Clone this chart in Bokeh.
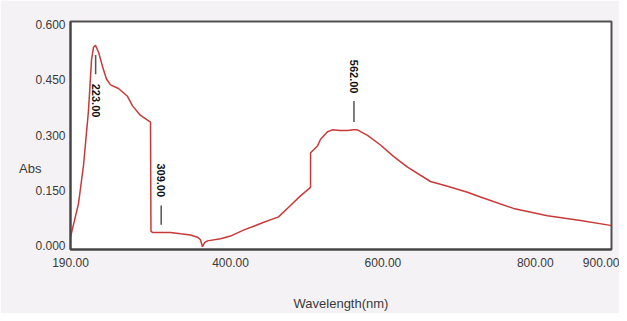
import math
from bokeh.plotting import figure
from bokeh.models import FixedTicker, PrintfTickFormatter, Range1d, LinearAxis
from bokeh.core.properties import value
from bokeh.embed import file_html
from bokeh.resources import INLINE

# Spectrum (wavelength nm, absorbance)
wavelength = [190.0, 200.5, 207.1, 213.6, 217.6, 220.2, 222.8, 226.7, 232.0, 237.2,
              242.5, 253.0, 264.8, 271.4, 281.9, 295.0, 295.6, 297.6, 308.1, 321.2,
              334.4, 347.5, 356.7, 360.6, 363.2, 365.9, 369.8, 386.9, 400.0, 417.0,
              442.0, 463.0, 478.7, 491.8, 505.0, 505.1, 514.1, 518.0, 527.3, 533.8,
              544.3, 553.5, 561.4, 566.6, 579.8, 596.8, 613.9, 632.3, 662.4, 684.8,
              711.0, 728.0, 771.4, 816.0, 859.3, 898.7, 900.0]
absorbance = [0.023, 0.114, 0.218, 0.366, 0.504, 0.538, 0.543, 0.525, 0.486, 0.452,
              0.436, 0.426, 0.405, 0.379, 0.353, 0.335, 0.039, 0.036, 0.036, 0.036,
              0.032, 0.029, 0.023, 0.016, -0.003, 0.008, 0.013, 0.019, 0.026, 0.042,
              0.062, 0.078, 0.109, 0.135, 0.158, 0.252, 0.270, 0.288, 0.309, 0.314,
              0.312, 0.312, 0.314, 0.314, 0.299, 0.273, 0.242, 0.213, 0.174, 0.161,
              0.145, 0.132, 0.101, 0.081, 0.068, 0.055, 0.055]

# Peak picks
peak_wl = [223, 309, 562]
peak_text = ["223.00", "309.00", "562.00"]
marker_top = [0.517, 0.109, 0.392]
marker_bottom = [0.465, 0.057, 0.335]
text_start = [0.439, 0.223, 0.504]

x_ticks = [190, 400, 600, 800, 900]
y_ticks = [0.0, 0.15, 0.30, 0.45, 0.60]
y_title = "Abs"
y_title_at = 0.21

p = figure(width=619, height=313, output_backend="svg", toolbar_location=None,
           x_range=Range1d(190, 900), y_range=Range1d(-0.0104, 0.6078),
           min_border_left=70, min_border_right=8, min_border_top=21, min_border_bottom=55)

p.background_fill_color = "white"
p.border_fill_color = "#f5f2f5"
p.outline_line_color = "#505050"
p.outline_line_width = 2
p.grid.visible = False

font = "Liberation Sans"
for ax in (p.xaxis[0], p.yaxis[0]):
    ax.axis_line_color = "#444444"
    ax.axis_line_width = 2
    ax.major_tick_line_color = None
    ax.minor_tick_line_color = None
    ax.major_tick_out = 0
    ax.minor_tick_out = 0
    ax.major_label_text_font = font
    ax.major_label_text_font_size = "12px"
    ax.major_label_text_color = "#3a3a3a"

p.xaxis.ticker = FixedTicker(ticks=x_ticks)
p.xaxis.formatter = PrintfTickFormatter(format="%.2f")
p.xaxis.major_label_standoff = 8
p.xaxis.axis_label = "Wavelength(nm)"
p.xaxis.axis_label_text_font = font
p.xaxis.axis_label_text_font_size = "13px"
p.xaxis.axis_label_text_font_style = "normal"
p.xaxis.axis_label_text_color = "#3a3a3a"
p.xaxis.axis_label_standoff = 26

p.yaxis.ticker = FixedTicker(ticks=y_ticks)
p.yaxis.formatter = PrintfTickFormatter(format="%.3f")
p.yaxis.major_label_standoff = 5

# Horizontal "Abs" title, placed as the label of an outer left axis
title_axis = LinearAxis(ticker=FixedTicker(ticks=[y_title_at]),
                        major_label_overrides={y_title_at: y_title})
title_axis.axis_line_color = None
title_axis.major_tick_line_color = None
title_axis.minor_tick_line_color = None
title_axis.major_tick_out = 0
title_axis.minor_tick_out = 0
title_axis.major_label_standoff = -9
title_axis.major_label_text_font = font
title_axis.major_label_text_font_size = "13px"
title_axis.major_label_text_color = "#3a3a3a"
p.add_layout(title_axis, "left")

p.line(wavelength, absorbance, line_color="#c83a3a", line_width=1.5)

p.segment(x0=peak_wl, y0=marker_top, x1=peak_wl, y1=marker_bottom,
          line_color="#555555", line_width=1.5)
p.text(x=peak_wl, y=text_start, text=peak_text, angle=-math.pi / 2,
       text_align="left", text_baseline="middle",
       text_font=value("Liberation Sans"), text_font_style="bold",
       text_font_size="11px", text_color="#111111")

open("out.html", "w").write(file_html(p, INLINE))
